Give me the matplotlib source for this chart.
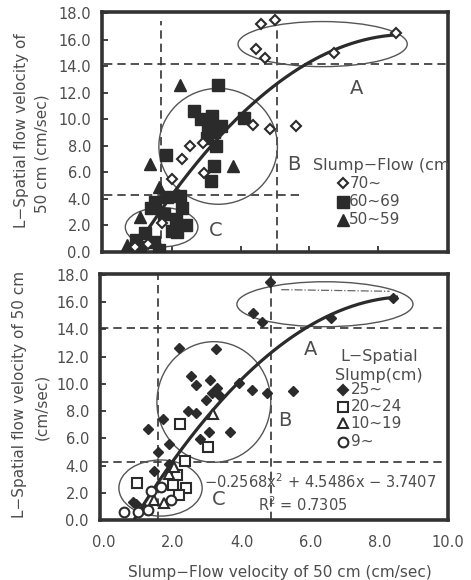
import matplotlib
matplotlib.use("Agg")
import matplotlib.pyplot as plt
from matplotlib.patches import Ellipse
import numpy as np

plt.rcParams['font.family'] = ['DejaVu Sans']

# ---- data : top panel (Slump-Flow groups) ----
f70_x = [4.59, 5.0, 4.44, 4.71, 6.73, 8.52, 4.36, 4.86, 5.6, 2.52, 2.29, 2.9, 2.0, 2.93, 1.71, 1.3, 0.9]
f70_y = [17.2, 17.5, 15.3, 14.6, 15.0, 16.55, 9.55, 9.3, 9.5, 8.0, 7.0, 8.2, 5.5, 5.95, 2.2, 0.6, 0.4]
f60_x = [3.34, 2.63, 2.83, 3.17, 3.42, 3.22, 3.0, 3.27, 4.08, 1.81, 3.22, 3.12, 3.05, 1.51, 1.85,
         2.24, 2.29, 2.1, 2.39, 2.15, 1.76, 1.37, 0.93, 1.46, 1.07, 1.61, 2.0, 1.2]
f60_y = [12.6, 10.6, 10.0, 10.25, 9.5, 9.05, 8.6, 8.0, 10.1, 7.35, 6.5, 5.35, 9.4, 3.75, 4.15,
         4.25, 3.3, 2.5, 2.0, 1.5, 2.9, 3.3, 0.9, 0.75, 0.35, 0.15, 1.6, 1.4]
f50_x = [2.24, 1.35, 3.76, 1.6, 1.05, 0.68]
f50_y = [12.6, 6.65, 6.5, 4.9, 2.65, 0.5]

# ---- data : bottom panel (L-Spatial slump groups) ----
s25_x = [4.83, 4.33, 4.6, 6.6, 8.4, 2.18, 3.25, 2.52, 2.66, 3.09, 3.28, 2.95, 3.14, 3.92, 4.29, 4.75,
         5.48, 2.44, 2.66, 1.7, 1.27, 3.67, 3.04, 2.8, 1.89, 1.56, 1.44, 1.9, 0.92, 1.15, 3.35, 0.84]
s25_y = [17.45, 15.2, 14.55, 14.85, 16.3, 12.6, 12.55, 10.6, 9.9, 10.3, 9.7, 8.8, 9.3, 10.1, 9.55, 9.3,
         9.45, 8.0, 7.85, 7.4, 6.7, 6.45, 6.45, 5.95, 5.55, 5.0, 3.6, 4.1, 1.2, 0.9, 9.2, 1.35]
s20_x = [2.2, 3.01, 2.34, 0.96, 2.13, 2.39, 2.18, 2.0]
s20_y = [7.05, 5.35, 4.3, 2.72, 3.3, 2.35, 1.85, 2.6]
s10_x = [3.17, 1.89, 2.04, 1.75, 1.46]
s10_y = [7.8, 3.4, 3.9, 1.25, 1.45]
s9_x = [0.57, 0.99, 1.27, 1.66, 1.94, 1.37]
s9_y = [0.6, 0.6, 0.7, 2.45, 1.5, 2.1]

# faint dash-dot trace near the top of the lower panel
trace_x = [5.15, 8.3]
trace_y = [16.92, 16.8]

# regression y = a x^2 + b x + c
coef = [-0.2568, 4.5486, -3.7407]
fit_range = [0.9, 8.5]

# ellipses (cx, cy, w, h) for A, B, C
ell_top = [(6.39, 15.68, 4.94, 3.4), (3.34, 7.97, 3.46, 8.74), (1.69, 1.87, 2.12, 2.97)]
ell_bot = [(6.42, 15.85, 5.12, 3.3), (3.19, 8.67, 3.31, 8.86), (1.64, 2.35, 2.42, 4.12)]

ink = '#2b2b2b'
txt = '#4d4d4d'
M = '\u2212'   # long dash used in the labels

fig = plt.figure(figsize=(4.71, 5.8), dpi=100)
ax1 = fig.add_axes([0.2166, 0.5655, 0.7346, 0.4138])
ax2 = fig.add_axes([0.2123, 0.1034, 0.7390, 0.4242])


def style(ax, xl, yl, xlabels):
    ax.set_xlim(*xl)
    ax.set_ylim(*yl)
    ax.set_yticks(np.arange(0, 18.1, 2))
    ax.set_yticklabels(['%.1f' % v for v in np.arange(0, 18.1, 2)])
    for s in ax.spines.values():
        s.set_linewidth(2.6)
        s.set_color('#333333')
    ax.tick_params(axis='y', direction='in', length=4, width=1.3, color='#333333',
                   labelsize=10.5, labelcolor=txt, pad=8)
    if xlabels:
        ax.set_xticks(np.arange(0, 10.1, 2))
        ax.set_xticklabels(['%.1f' % v for v in np.arange(0, 10.1, 2)])
        ax.tick_params(axis='x', length=0, labelsize=10.5, labelcolor=txt, pad=11)
    else:
        ax.set_xticks([2, 4, 6, 8])
        ax.tick_params(axis='x', direction='in', length=4, width=1.3, color='#333333',
                       labelbottom=False)


def draw_fit(ax):
    xx = np.linspace(fit_range[0], fit_range[1], 200)
    yy = np.polyval(coef, xx)
    ax.plot(xx, yy, color=ink, lw=2.3, zorder=4)


def draw_ellipses(ax, ells):
    for cx, cy, w, h in ells:
        ax.add_patch(Ellipse((cx, cy), w, h, fill=False, ec='#555555', lw=1.0, zorder=2))


dash = dict(color='#333333', lw=1.2, ls=(0, (5, 3)), zorder=1)

# ---------------- top panel ----------------
style(ax1, (-0.05, 10.05), (0, 18.1), False)
ax1.plot([0, 10.05], [14.2, 14.2], **dash)
ax1.plot([0, 5.85], [4.28, 4.28], **dash)
ax1.plot([1.66, 1.66], [0, 17.4], **dash)
ax1.plot([5.07, 5.07], [0, 16.8], **dash)
draw_ellipses(ax1, ell_top)
draw_fit(ax1)
ax1.plot(f60_x, f60_y, 's', ms=8.5, mfc=ink, mec=ink, zorder=5)
ax1.plot(f50_x, f50_y, '^', ms=8.5, mfc=ink, mec=ink, zorder=5)
ax1.plot(f70_x, f70_y, 'D', ms=4.6, mfc='white', mec=ink, mew=1.5, zorder=6)

for lab, (x, y) in zip('ABC', [(7.37, 12.34), (5.54, 6.62), (3.27, 1.64)]):
    ax1.text(x, y, lab, fontsize=14, color=txt, ha='center', va='center')

ax1.text(6.1, 6.55, 'Slump' + M + 'Flow (cm)', fontsize=11.5, color=txt, va='center', clip_on=True)
leg1 = [('D', 'white', 4.6, '70~', 5.17), ('s', ink, 8, '60~69', 3.78), ('^', ink, 8, '50~59', 2.45)]
for m, fc, ms, lab, y in leg1:
    ax1.plot([6.98], [y], m, ms=ms, mfc=fc, mec=ink, mew=1.5 if fc == 'white' else 1, clip_on=False)
    ax1.text(7.17, y, lab, fontsize=11, color=txt, va='center')

fig.text(22 / 471, 1 - 131 / 580, 'L' + M + 'Spatial flow velocity of', rotation=90,
         ha='center', va='center', fontsize=11, color=txt)
fig.text(42 / 471, 1 - 154 / 580, '50 cm (cm/sec)', rotation=90,
         ha='center', va='center', fontsize=11, color=txt)

# ---------------- bottom panel ----------------
style(ax2, (-0.12, 9.88), (0, 18.07), True)
ax2.axhline(14.08, **dash)
ax2.axhline(4.24, **dash)
ax2.axvline(1.56, **dash)
ax2.axvline(4.84, **dash)
draw_ellipses(ax2, ell_bot)
ax2.plot(trace_x, trace_y, color='#666666', lw=0.9, ls='-.', zorder=2)

ax2.text(2.9, 2.82, M + '0.2568x$^{2}$ + 4.5486x ' + M + ' 3.7407', fontsize=10.5, color=txt,
         ha='left', va='center', zorder=3)
ax2.text(5.77, 1.1, 'R$^{2}$ = 0.7305', fontsize=10.5, color=txt, ha='center', va='center', zorder=3)

draw_fit(ax2)
ax2.plot(s25_x, s25_y, 'D', ms=5.4, mfc=ink, mec=ink, zorder=5)
ax2.plot(s20_x, s20_y, 's', ms=7.2, mfc='white', mec=ink, mew=1.5, zorder=6)
ax2.plot(s10_x, s10_y, '^', ms=7, mfc='white', mec=ink, mew=1.5, zorder=6)
ax2.plot(s9_x, s9_y, 'o', ms=7, mfc='white', mec=ink, mew=1.5, zorder=6)

for lab, (x, y) in zip('ABC', [(5.99, 12.54), (5.26, 7.3), (3.33, 1.52)]):
    ax2.text(x, y, lab, fontsize=14, color=txt, ha='center', va='center')

ax2.text(8.0, 12.0, 'L' + M + 'Spatial', fontsize=11.5, color=txt, ha='center', va='center')
ax2.text(8.0, 10.65, 'Slump(cm)', fontsize=11.5, color=txt, ha='center', va='center')
leg2 = [('D', ink, 5.4, '25~', 9.55), ('s', 'white', 7, '20~24', 8.33),
        ('^', 'white', 7, '10~19', 7.1), ('o', 'white', 7, '9~', 5.76)]
for m, fc, ms, lab, y in leg2:
    ax2.plot([6.95], [y], m, ms=ms, mfc=fc, mec=ink, mew=1.5)
    ax2.text(7.17, y, lab, fontsize=11, color=txt, va='center')

fig.text(20 / 471, 1 - 394 / 580, 'L' + M + 'Spatial flow velocity of 50 cm', rotation=90,
         ha='center', va='center', fontsize=11, color=txt)
fig.text(42 / 471, 1 - 407 / 580, '(cm/sec)', rotation=90,
         ha='center', va='center', fontsize=11, color=txt)
fig.text(280 / 471, 1 - 572 / 580, 'Slump' + M + 'Flow velocity of 50 cm (cm/sec)',
         ha='center', va='center', fontsize=11, color=txt)

fig.savefig('out.png', dpi=100)
